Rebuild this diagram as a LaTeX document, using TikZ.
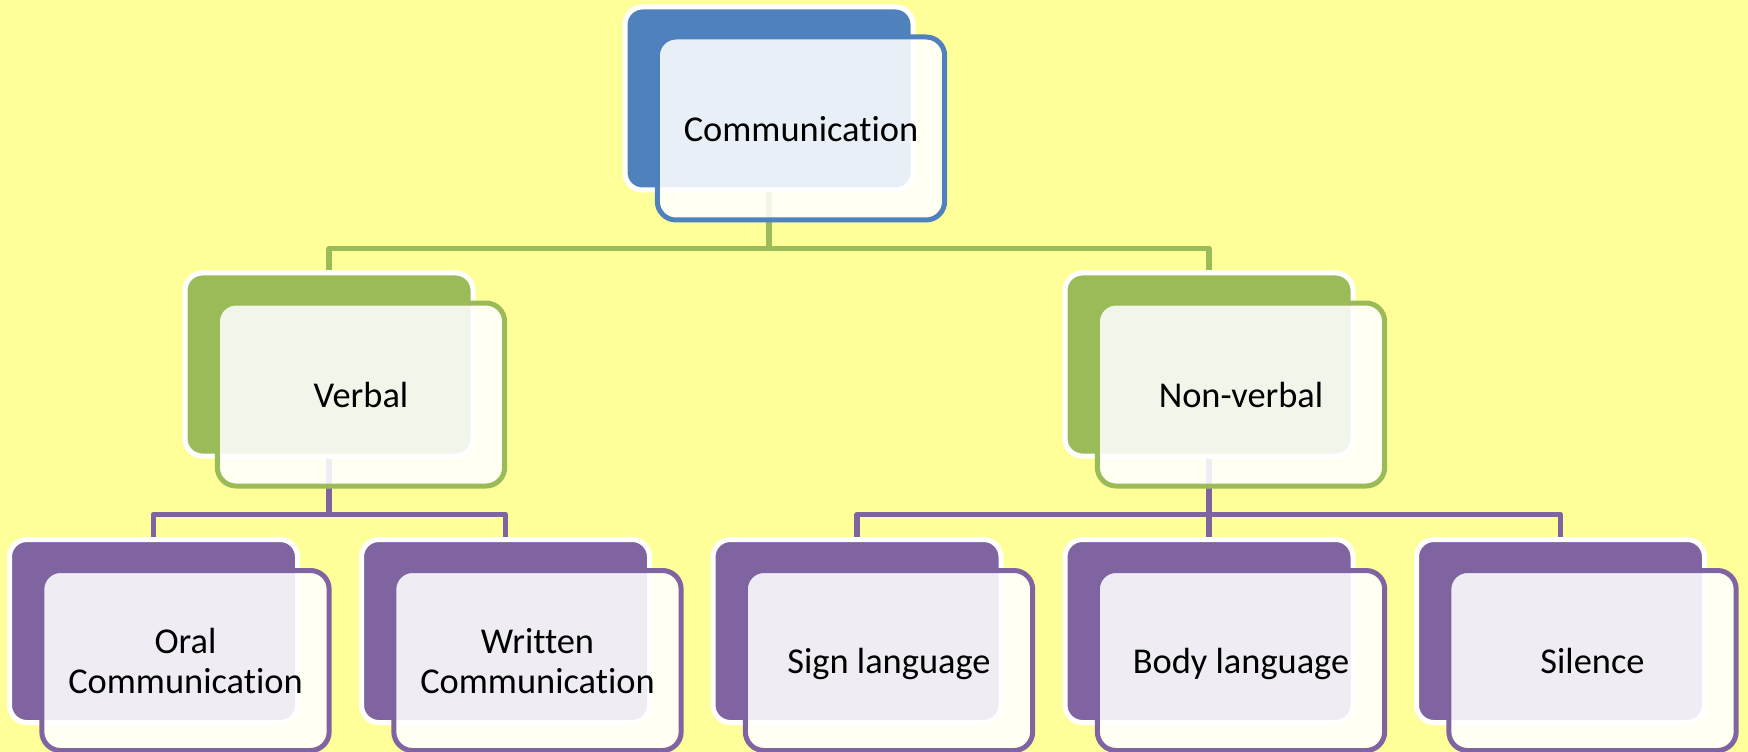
\documentclass[tikz,border=0pt]{standalone}
\usepackage{fontspec}
\setmainfont[Ligatures=NoCommon,RawFeature={-liga;-clig;-calt}]{Carlito}
\definecolor{bgyellow}{HTML}{FFFF99}
\definecolor{ofblue}{HTML}{4F81BD}
\definecolor{ofgreen}{HTML}{9BBB59}
\definecolor{ofpurple}{HTML}{8064A2}
\tikzset{every picture/.style={line width=0.75pt}}
\tikzset{
  backbox/.style={rectangle, rounded corners=13pt, fill=#1, draw=white, line width=3.75pt,
    minimum width=216pt, minimum height=137.25pt, inner sep=0pt},
  frontbox/.style={rectangle, rounded corners=14pt, draw=#1, fill=white, fill opacity=0.88,
    text opacity=1, line width=3.75pt, minimum width=215.5pt, minimum height=137.25pt,
    inner sep=0pt, text depth=0pt, align=center, font=\fontsize{27.3}{30}\selectfont},
  lowbox/.style={frontbox=#1, minimum height=135pt},
  link/.style={draw=#1, line width=3.9pt, line join=round},
}

\begin{document}
\begin{tikzpicture}[x=0.75pt,y=0.75pt,yscale=-1,xscale=1]
\fill [bgyellow] (0,0) rectangle (1748,752);
\useasboundingbox (0,0) rectangle (1748,752);
% back boxes
\node [backbox=ofblue] (commb) at (769,98.5) {};
\node [backbox=ofgreen] (verbb) at (329,364.5) {};
\node [backbox=ofgreen] (nonvb) at (1209,364.5) {};
\node [backbox=ofpurple] (oralb) at (153.5,631) {};
\node [backbox=ofpurple] (writb) at (505.5,631) {};
\node [backbox=ofpurple] (signb) at (857,631) {};
\node [backbox=ofpurple] (bodyb) at (1209,631) {};
\node [backbox=ofpurple] (silb) at (1560.5,631) {};
% links
\draw [link=ofgreen] (commb.south) -- ++(0,56) -| (verbb.north);
\draw [link=ofgreen] (commb.south) -- ++(0,56) -| (nonvb.north);
\draw [link=ofpurple] (verbb.south) -- ++(0,56) -| (oralb.north);
\draw [link=ofpurple] (verbb.south) -- ++(0,56) -| (writb.north);
\draw [link=ofpurple] (nonvb.south) -- ++(0,56) -| (signb.north);
\draw [link=ofpurple] (nonvb.south) -- ++(0,56) -| (silb.north);
\draw [link=ofpurple] (nonvb.south) -- (bodyb.north);
% front boxes
\node [frontbox=ofblue] (comm) at ([shift={(32,30)}]commb.center) {Communication};
\node [frontbox=ofgreen] (verb) at ([shift={(32,30)}]verbb.center) {Verbal};
\node [frontbox=ofgreen] (nonv) at ([shift={(32,30)}]nonvb.center) {Non-verbal};
\node [lowbox=ofpurple] (oral) at ([shift={(32,29.5)}]oralb.center) {Oral\\Communication};
\node [lowbox=ofpurple] (writ) at ([shift={(32,29.5)}]writb.center) {Written\\Communication};
\node [lowbox=ofpurple] (sign) at ([shift={(32,29.5)}]signb.center) {Sign language};
\node [lowbox=ofpurple] (body) at ([shift={(32,29.5)}]bodyb.center) {Body language};
\node [lowbox=ofpurple] (sil) at ([shift={(32,29.5)}]silb.center) {Silence};
\end{tikzpicture}
\end{document}
